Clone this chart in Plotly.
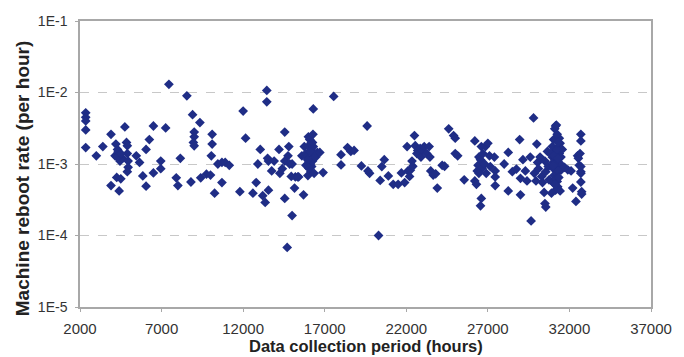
import plotly.graph_objects as go

# Data collection period (hours)
hours = [
    2350, 2350, 2350, 2350, 2350, 3000, 3400, 3900, 3900,
    4150, 4200, 4300, 4350, 4400, 4450, 4600, 4750, 4850, 4900, 4900, 4950, 4950, 4900, 4250, 4500, 4400,
    4300, 4350, 4500,
    5450, 5650, 5850, 6050, 6050, 6250, 6500, 6500, 6950, 6950, 7250, 7450, 7900, 8000, 8150, 8550, 8800,
    8900, 9000, 9000, 8950, 9000, 9350, 9400, 9750, 10000, 10100, 10100, 10050, 10250, 10450, 10700, 10700,
    10900, 11150, 11800, 12000, 12150,
    12600, 12800, 12900, 13050, 13200, 13350, 13450, 13450, 13500, 13550, 13550, 13750, 13900,
    14200, 14250, 14400, 14550, 14550, 14550, 14700, 14750, 14800, 14850, 14950, 15000, 15000, 15150, 15200,
    15350, 15400, 15600, 15700, 15750,
    15850, 15900, 16000, 16000, 16080, 16150, 16200, 16030, 16120, 16200, 16150, 15970, 16280, 16300, 16350,
    16250, 16350, 16030, 15850, 16450, 16550, 16300, 16700, 16900, 16100, 16250, 15950,
    17550, 18000, 18000, 18400, 18600, 18800, 19250, 19600, 19650, 19750, 20300, 20400, 20500, 20650, 20900,
    21200, 21500, 21700, 21900, 22050, 22100, 22200, 22250, 22350, 22400, 22500, 22550, 22650, 22700, 22850,
    22900, 23000, 23100, 23250, 23400, 23450, 23500, 23650, 23800, 23900, 24200, 24350, 24600, 24900, 25000,
    25000, 25150,
    25550, 26200, 26200, 26300, 26350, 26400, 26450, 26550, 26600, 26600, 26550, 26650, 26700, 26800, 26850,
    27000, 26900, 26450, 27100, 27150, 27400, 27450, 27450, 27450, 28000, 28250, 28250, 28500, 28750, 28950,
    29000, 29000, 29150, 29300, 29400, 29600, 29650, 29800, 29850, 29950, 30000, 30050, 30100, 30200, 30300,
    30350, 30450, 30500, 30550, 30500, 30550, 30650, 30700, 30750,
    30950, 31000, 31030, 31050, 31000, 30950, 31030, 31100, 31150, 31200, 31100, 31150, 31200, 31230, 31250,
    31280, 31150, 31330, 31380, 31380, 31430, 31450, 31480, 31500, 31430, 31560, 30900, 30850,
    31050, 31100, 31250, 31300, 31300, 31200, 31100, 31350, 31000, 31250, 31300,
    31700, 31900, 32100, 32200, 32400, 32500, 32550, 32600, 32700, 32700, 32700, 32700, 32700, 32700, 32750,
    32750, 32650,
]

# Machine reboot rate (per hour)
rates = [
    5.2e-3, 4.5e-3, 4.0e-3, 3.0e-3, 1.7e-3, 1.3e-3, 1.75e-3, 2.6e-3, 5.0e-4,
    1.3e-3, 1.9e-3, 1.6e-3, 1.45e-3, 1.35e-3, 1.1e-3, 1.2e-3, 3.3e-3, 2.0e-3, 1.8e-3, 1.4e-3, 1.1e-3, 9e-4, 7.8e-4, 6.5e-4, 6.2e-4, 4.2e-4,
    1.25e-3, 1.5e-3, 1.4e-3,
    1.3e-3, 1.05e-3, 6.8e-4, 4.9e-4, 1.6e-3, 2.2e-3, 3.4e-3, 7.5e-4, 8.6e-4, 1.1e-3, 3.2e-3, 1.3e-2, 6.4e-4, 5e-4, 1.2e-3, 9e-3, 5.6e-4,
    4.9e-3, 2.8e-3, 2.4e-3, 2.0e-3, 1.8e-3, 3.8e-3, 6.4e-4, 7.2e-4, 7e-4, 2.6e-3, 1.9e-3, 1.3e-3, 3.9e-4, 1e-3, 1.05e-3, 5.5e-4,
    1.05e-3, 9.6e-4, 4.1e-4, 5.5e-3, 2.3e-3,
    3.9e-4, 5.5e-4, 1e-3, 1.6e-3, 3.6e-4, 2.9e-4, 1.07e-2, 7.4e-3, 1.2e-3, 1.1e-3, 4.3e-4, 8e-4, 1.1e-3,
    1.6e-3, 7.4e-4, 8.6e-4, 2.8e-3, 3.3e-4, 1.1e-3, 6.8e-5, 1.3e-3, 1.75e-3, 1e-3, 6.7e-4, 1.9e-4, 1e-3, 4.6e-4, 6.6e-4,
    6.6e-4, 6.6e-4, 1.3e-3, 3.7e-4, 1.75e-3,
    1.4e-3, 1.25e-3, 1.75e-3, 2.4e-3, 2.2e-3, 1.95e-3, 1.55e-3, 1.1e-3, 1e-3, 9.2e-4, 7.8e-4, 6.9e-4, 2.6e-3, 1.75e-3, 1.3e-3,
    1.1e-3, 7.4e-4, 8.7e-4, 9.6e-4, 1.25e-3, 1.45e-3, 5.9e-3, 1.45e-3, 7.6e-4, 1.5e-3, 2.0e-3, 1.15e-3,
    8.8e-3, 1.35e-3, 9.7e-4, 1.7e-3, 1.5e-3, 1.55e-3, 9.4e-4, 3.4e-3, 8e-4, 7.4e-4, 1e-4, 5.9e-4, 9.2e-4, 1.15e-3, 6.8e-4,
    5.2e-4, 5.2e-4, 7.5e-4, 5.5e-4, 1.75e-3, 8e-4, 6.7e-4, 8.2e-4, 1.1e-3, 9.3e-4, 2.5e-3, 1.8e-3, 1.4e-3, 1.55e-3, 1.65e-3,
    1.25e-3, 1.55e-3, 1.75e-3, 1.4e-3, 1.75e-3, 1.25e-3, 8e-4, 7e-4, 7.3e-4, 4.6e-4, 9.6e-4, 9.3e-4, 3.1e-3, 2.5e-3, 2.3e-3,
    1.4e-3, 1.3e-3,
    6e-4, 2.1e-3, 5.8e-4, 5.2e-4, 8e-4, 9.6e-4, 1.25e-3, 1.15e-3, 1.75e-3, 3.3e-4, 2.6e-4, 8.7e-4, 1.4e-3, 1e-3, 1.75e-3,
    1.95e-3, 7.4e-4, 7.4e-4, 1.3e-3, 9.2e-4, 1.25e-3, 8e-4, 6.6e-4, 5e-4, 1e-3, 1.45e-3, 4.2e-4, 7.8e-4, 8.5e-4, 2.2e-3,
    3.7e-4, 6.3e-4, 1.15e-3, 8e-4, 5.8e-4, 1.25e-3, 1.6e-4, 4.4e-3, 7.4e-4, 5.8e-4, 1.9e-3, 1.05e-3, 8.6e-4, 1.25e-3, 6.7e-4,
    5.5e-4, 4e-4, 2.8e-4, 2.5e-4, 1.1e-3, 7.8e-4, 1.5e-3, 9.2e-4, 6e-4,
    1.25e-3, 1.05e-3, 8.6e-4, 6.9e-4, 5.5e-4, 1.75e-3, 2.2e-3, 3.1e-3, 3.4e-3, 3.5e-3, 1.45e-3, 1.1e-3, 9.2e-4, 7.4e-4, 5.7e-4,
    4.8e-4, 4.3e-4, 1.75e-3, 1.4e-3, 2.3e-3, 1.95e-3, 1e-3, 1.25e-3, 8.3e-4, 4.2e-4, 1.6e-3, 3.9e-4, 1.4e-3,
    1.3e-3, 9.8e-4, 1.6e-3, 1.2e-3, 8e-4, 6.2e-4, 5.2e-4, 6.5e-4, 9.5e-4, 2.6e-3, 2.0e-3,
    9e-4, 8.3e-4, 8e-4, 4.6e-4, 3e-4, 1.3e-3, 1.2e-3, 9.6e-4, 7.8e-4, 2.6e-3, 2.1e-3, 9.2e-4, 7.4e-4, 5.6e-4, 4.1e-4,
    3.8e-4, 1.4e-3,
]

x_ticks = [2000, 7000, 12000, 17000, 22000, 27000, 32000, 37000]
y_ticks = [1e-5, 1e-4, 1e-3, 1e-2, 1e-1]
y_tick_labels = ["1E-5", "1E-4", "1E-3", "1E-2", "1E-1"]

fig = go.Figure()
fig.add_trace(go.Scatter(
    x=hours, y=rates, mode="markers",
    marker=dict(symbol="diamond", size=7.5, color="#1f2d86", line=dict(width=0)),
    showlegend=False,
))

font_family = "Liberation Sans, Arial, sans-serif"
fig.update_layout(
    width=684, height=357,
    margin=dict(l=80, r=31, t=21, b=50),
    paper_bgcolor="white", plot_bgcolor="white",
    font=dict(family=font_family, size=14, color="#333333"),
)
fig.update_xaxes(
    range=[2000, 37000], tickvals=x_ticks, ticktext=[str(v) for v in x_ticks],
    showgrid=False, zeroline=False,
    showline=True, mirror=True, linecolor="#a8a8a8", linewidth=1.5,
    ticks="outside", ticklen=3, tickcolor="#a8a8a8",
    ticklabelstandoff=4,
    tickfont=dict(size=15, color="#333333"),
)
fig.update_yaxes(
    type="log", range=[-5, -1], tickvals=y_ticks, ticktext=y_tick_labels,
    showgrid=True, gridcolor="#c8c8c8", griddash="dash", gridwidth=1,
    zeroline=False,
    showline=True, mirror=True, linecolor="#a8a8a8", linewidth=1.5,
    ticks="outside", ticklen=3, tickcolor="#a8a8a8",
    ticklabelstandoff=5,
    tickfont=dict(size=14, color="#333333"),
)

# Axis titles placed as annotations (paper coordinates relative to plot domain)
fig.add_annotation(
    text="<b>Data collection period (hours)</b>", xref="paper", yref="paper",
    x=0.5, y=(307 - 346) / 286, showarrow=False, xanchor="center", yanchor="middle",
    font=dict(size=16.5, color="#222222"),
)
fig.add_annotation(
    text="<b>Machine reboot rate (per hour)</b>", xref="paper", yref="paper",
    x=(22 - 80) / 573, y=(307 - 178) / 286, showarrow=False, xanchor="center", yanchor="middle",
    textangle=-90, font=dict(size=19, color="#222222"),
)

fig.write_html("out.html")
